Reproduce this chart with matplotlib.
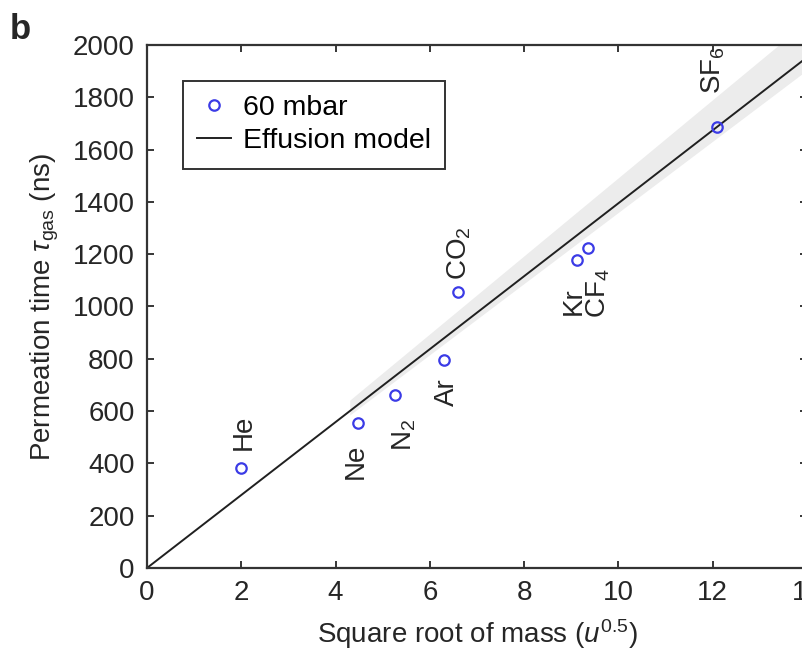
import numpy as np
import matplotlib.pyplot as plt

# measured permeation times at 60 mbar
gases = ['He', 'Ne', 'N$_2$', 'Ar', 'CO$_2$', 'Kr', 'CF$_4$', 'SF$_6$']
sqrt_mass = [2.0, 4.47, 5.27, 6.3, 6.6, 9.12, 9.36, 12.08]
tau_gas = [381, 556, 660, 797, 1054, 1176, 1225, 1687]

# where the rotated gas names sit relative to their point (data units)
label_dx = [0.06, -0.04, 0.18, 0.06, 0.03, -0.07, 0.22, -0.08]
label_dy = [136, -150, -152, -126, 149, -156, -173, 215]

# effusion model, slope in ns per u^0.5
model_slope = 139.5
band_lo, band_hi = 0.975, 1.07
model_x = np.array([0, 14])
band_x = np.array([4.3, 14])

plt.rcParams['font.family'] = ['Liberation Sans', 'DejaVu Sans']
plt.rcParams['mathtext.fontset'] = 'custom'
plt.rcParams['mathtext.rm'] = 'Liberation Sans'
plt.rcParams['mathtext.it'] = 'Liberation Sans:italic'

FS = 20
txt = '#262626'

fig = plt.figure(figsize=(8.02, 6.5), dpi=100)
ax = fig.add_axes([0.1833, 0.1262, 0.823, 0.8046])

ax.fill_between(band_x, band_x * model_slope * band_lo, band_x * model_slope * band_hi,
                color='#ececec', lw=0, zorder=1)
ax.plot(model_x, model_x * model_slope, color='#202020', lw=1.4, zorder=2,
        label='Effusion model')
ax.plot(sqrt_mass, tau_gas, 'o', ms=7.5, mfc='none', mec='#3b3be6', mew=1.6,
        zorder=3, label='60 mbar')

for g, xv, yv, dx, dy in zip(gases, sqrt_mass, tau_gas, label_dx, label_dy):
    ax.text(xv + dx, yv + dy, g, rotation=90, ha='center', va='center',
            fontsize=FS, color=txt)

ax.set_xlim(0, 14)
ax.set_ylim(0, 2000)
ax.set_xticks(np.arange(0, 15, 2))
ax.set_yticks(np.arange(0, 2001, 200))
ax.tick_params(direction='in', length=5, width=1.3, top=True, right=True,
               labelsize=FS, colors=txt, pad=9)
for s in ax.spines.values():
    s.set_linewidth(1.6)
    s.set_color('#333333')

ax.set_xlabel('Square root of mass ($u^{0.5}$)', fontsize=FS, color=txt, labelpad=8)
ax.set_ylabel(r'Permeation time $\tau_{\rm gas}$ (ns)', fontsize=FS, color=txt, labelpad=8)

h, l = ax.get_legend_handles_labels()
leg = ax.legend(h[::-1], l[::-1], loc='upper left', bbox_to_anchor=(0.0545, 0.931),
                borderaxespad=0, fontsize=20.5, fancybox=False, edgecolor='#333333',
                framealpha=1, handlelength=1.2, handletextpad=0.4, borderpad=0.5,
                labelspacing=0.25)
leg.get_frame().set_linewidth(1.4)

fig.text(0.012, 0.94, 'b', fontsize=25, fontweight='bold', color=txt)

fig.savefig('out.png', dpi=100)
